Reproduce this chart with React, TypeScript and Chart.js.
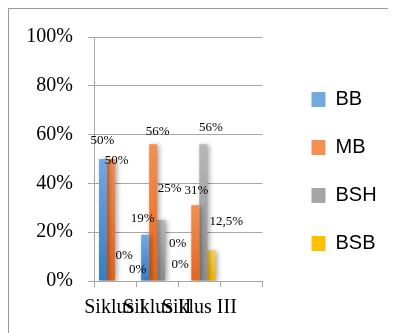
import React, { useEffect, useRef } from 'react';
import { Chart, registerables } from 'chart.js';

Chart.register(...registerables);

// ---- data ----
const categories = ['Siklus I', 'Siklus II', 'Siklus III', ''];
const seriesNames = ['BB', 'MB', 'BSH', 'BSB'];
const bbValues = [50, 19, 0];
const mbValues = [50, 56, 31];
const bshValues = [0, 25, 56];
const bsbValues = [0, 0, 12.5];
const yTickValues = [0, 20, 40, 60, 80, 100];

// ---- styles ----
const seriesColors: [string, string, string][] = [
  ['#72a9e0', '#4a8bd0', '#3a7bc2'],
  ['#f58f52', '#f07a30', '#e4661c'],
  ['#b8b8b8', '#a5a5a5', '#8e8e8e'],
  ['#ffd24a', '#ffc000', '#f2b600'],
];
// label nudges (px) relative to bar centre / bar top
const labelNudges: [number, number][][] = [
  [[-0.5, -18], [-2.5, -16], [-7, -16.5]],
  [[5.5, 2], [4.5, -13], [1, -15]],
  [[5, -25], [8.5, -31.5], [7.5, -17]],
  [[10.5, -11], [8.5, -37], [15, -28.5]],
];

const W = 387;
const H = 324;
const SERIF = 'Liberation Serif';
const SANS = 'Liberation Sans';

const fmt = (v: number) => String(v).replace('.', ',') + '%';

export default function App() {
  const ref = useRef<HTMLCanvasElement>(null);

  useEffect(() => {
    document.documentElement.style.overflow = 'hidden';
    const canvas = ref.current!;
    const values = [bbValues, mbValues, bshValues, bsbValues];

    const gradientFill = (si: number) => (ctx: any) => {
      const chart = ctx.chart;
      const y = chart.scales && chart.scales.y;
      const [top, mid, bottom] = seriesColors[si];
      if (!chart.chartArea || !y || typeof ctx.raw !== 'number') return mid;
      const y0 = y.getPixelForValue(ctx.raw);
      const y1 = y.getPixelForValue(0);
      if (!(y1 > y0 + 0.5)) return mid;
      const g = chart.ctx.createLinearGradient(0, y0, 0, y1);
      g.addColorStop(0, top);
      g.addColorStop(1, bottom);
      return g;
    };

    const barShadow = {
      id: 'barShadow',
      beforeDatasetsDraw(chart: any) {
        const c = chart.ctx;
        c.save();
        c.shadowColor = 'rgba(0,0,0,0.35)';
        c.shadowBlur = 5;
        c.shadowOffsetX = 2;
        c.shadowOffsetY = 1;
      },
      afterDatasetsDraw(chart: any) {
        chart.ctx.restore();
      },
    };

    const valueLabels = {
      id: 'valueLabels',
      afterDraw(chart: any) {
        const c = chart.ctx;
        c.save();
        c.font = `13px "${SERIF}"`;
        c.fillStyle = '#000';
        c.textAlign = 'center';
        c.textBaseline = 'middle';
        chart.data.datasets.forEach((ds: any, si: number) => {
          const meta = chart.getDatasetMeta(si);
          meta.data.forEach((bar: any, i: number) => {
            const v = ds.data[i];
            if (v == null) return;
            const [dx, dy] = labelNudges[si][i];
            c.fillText(fmt(v), bar.x + dx, bar.y + dy);
          });
        });
        c.restore();
      },
    };

    const legendGap = {
      id: 'legendGap',
      afterLayout(chart: any) {
        const l = chart.legend;
        if (l) {
          l.left += 21;
          l.right = chart.width;
          l.top -= 13.5;
          l.bottom -= 13.5;
        }
      },
    };

    const chart = new Chart(canvas, {
      type: 'bar',
      data: {
        labels: categories,
        datasets: seriesNames.map((name, si) => ({
          label: name,
          data: values[si],
          backgroundColor: gradientFill(si),
          borderWidth: 0,
          categoryPercentage: 0.762,
          barPercentage: 1,
        })),
      },
      options: {
        responsive: false,
        animation: false,
        devicePixelRatio: 1,
        layout: { padding: { top: 28, right: 49, bottom: 0, left: 0 } },
        plugins: {
          legend: {
            position: 'right',
            labels: {
              boxWidth: 14,
              boxHeight: 15,
              padding: 28,
              color: '#000',
              font: { family: SANS, size: 20 },
            },
          },
          tooltip: { enabled: false },
        },
        scales: {
          x: {
            grid: {
              display: true,
              drawOnChartArea: false,
              drawTicks: true,
              tickLength: 6,
              color: '#a6a6a6',
              offset: true,
            },
            border: { display: true, color: '#a6a6a6' },
            ticks: {
              autoSkip: false,
              maxRotation: 0,
              minRotation: 0,
              padding: 9,
              color: '#000',
              font: { family: SERIF, size: 20 },
            },
            afterFit: (s: any) => {
              s.height = 52;
            },
          },
          y: {
            min: 0,
            max: 100,
            afterBuildTicks: (s: any) => {
              s.ticks = yTickValues.map((v) => ({ value: v }));
            },
            ticks: {
              padding: 15,
              color: '#000',
              font: { family: SERIF, size: 20 },
              callback: (v: any) => v + '%',
            },
            grid: { color: '#a6a6a6', tickLength: 6 },
            border: { display: true, color: '#a6a6a6' },
            afterFit: (s: any) => {
              s.width = 85;
            },
          },
        },
      },
      plugins: [barShadow, valueLabels, legendGap],
    } as any);

    return () => chart.destroy();
  }, []);

  return (
    <div
      style={{
        width: W,
        height: H,
        borderTop: '1px solid #999',
        borderLeft: '1px solid #999',
      }}
    >
      <canvas ref={ref} width={W} height={H} style={{ display: 'block' }} />
    </div>
  );
}
